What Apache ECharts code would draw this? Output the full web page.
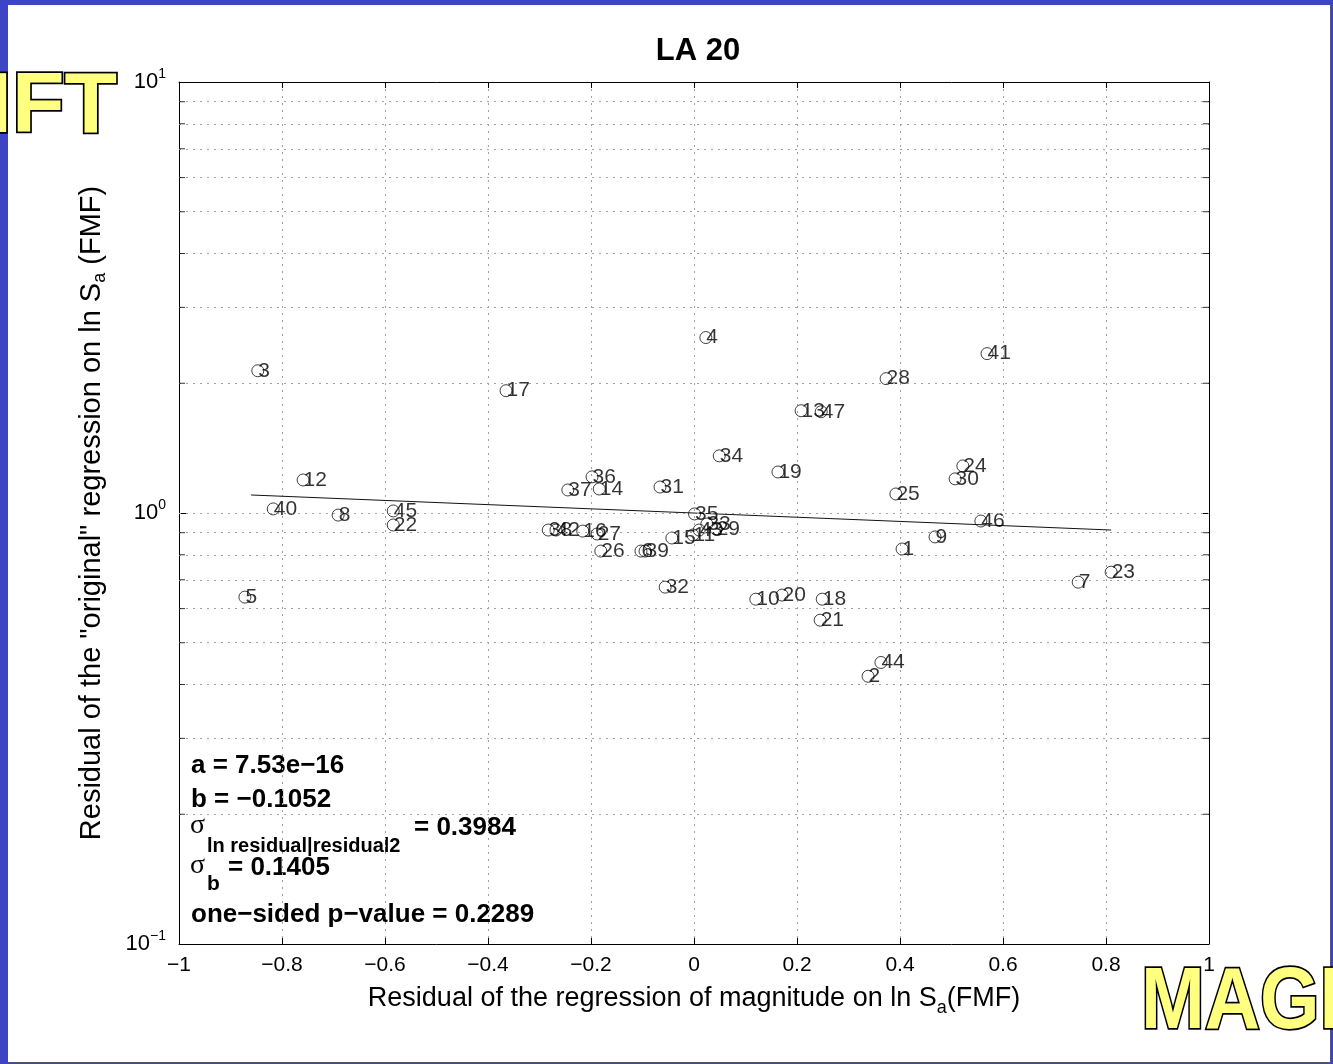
<!DOCTYPE html>
<html>
<head>
<meta charset="utf-8">
<script src="https://cdn.jsdelivr.net/npm/echarts@6/dist/echarts.min.js"></script>
<style>
  html, body { margin: 0; padding: 0; width: 1333px; height: 1064px; overflow: hidden; background: #3d45c2; }
  #panel { position: absolute; left: 8px; top: 5px; width: 1322px; height: 1057px; background: #fff; border-right: 1px solid #556; border-bottom: 1px solid #556; }
  #chart { position: absolute; left: 0; top: 0; width: 1333px; height: 1064px; }
</style>
</head>
<body>
<div id="panel"></div>
<div id="chart"></div>
<script>
// event numbers, residual of magnitude regression (x), residual of original regression (y)
const ids = [1, 2, 3, 4, 5, 6, 7, 8, 9, 10, 11, 12, 13, 14, 15, 16, 17, 18, 19, 20, 21, 22, 23, 24,
  25, 26, 27, 28, 29, 30, 31, 32, 33, 34, 35, 36, 37, 38, 39, 40, 41, 42, 43, 44, 45, 46, 47];
const resMag = [0.404, 0.338, -0.847, 0.023, -0.872, -0.103, 0.746, -0.691, 0.468, 0.120, -0.002, -0.759,
  0.208, -0.184, -0.043, -0.216, -0.365, 0.249, 0.163, 0.171, 0.245, -0.584, 0.810, 0.522,
  0.392, -0.181, -0.188, 0.373, 0.043, 0.507, -0.066, -0.056, 0.025, 0.049, 0.001, -0.198,
  -0.245, -0.283, -0.095, -0.817, 0.569, -0.268, 0.010, 0.363, -0.584, 0.557, 0.247];
const resOrig = [0.825, 0.418, 2.138, 2.553, 0.638, 0.816, 0.691, 0.989, 0.880, 0.631, 0.889, 1.193,
  1.727, 1.137, 0.875, 0.908, 1.922, 0.631, 1.245, 0.645, 0.564, 0.938, 0.729, 1.286,
  1.107, 0.816, 0.894, 2.050, 0.918, 1.200, 1.149, 0.673, 0.943, 1.357, 0.995, 1.213,
  1.131, 0.913, 0.816, 1.022, 2.343, 0.913, 0.913, 0.450, 1.011, 0.958, 1.718];

// fitted line end points
const fitX = [-0.86, 0.81];
const fitY = [1.101, 0.913];

// log grid positions
const logGrid = [0.2, 0.3, 0.4, 0.5, 0.6, 0.7, 0.8, 0.9, 1, 2, 3, 4, 5, 6, 7, 8, 9];
const minorTicks = logGrid.filter(v => v !== 1);
const powLabels = { "-1": "\u22121", "0": "0", "1": "1" };

const FONT = "'Liberation Sans', Arial, Helvetica, sans-serif";

const chart = echarts.init(document.getElementById("chart"), null, { renderer: "canvas" });

const points = ids.map((id, i) => [resMag[i], resOrig[i], id]);

const txt = (x, y, text, font) => ({
  type: "text", x: x, y: y, silent: true,
  style: { text: text, font: font, fill: "#000", verticalAlign: "middle" }
});
const bold = "bold 26px " + FONT;

const option = {
  animation: false,
  backgroundColor: "transparent",
  title: {
    text: "LA 20",
    left: 693,
    top: 31,
    textAlign: "center",
    textStyle: { fontFamily: FONT, fontWeight: "bold", fontSize: 31, color: "#000" }
  },
  grid: { left: 179, right: 124, top: 82, bottom: 120, containLabel: false },
  xAxis: [
    {
      type: "value", min: -1, max: 1, interval: 0.2, position: "bottom",
      name: "Residual of the regression of magnitude on ln S{sub|a}(FMF)",
      nameLocation: "middle", nameGap: 23,
      nameTextStyle: {
        fontFamily: FONT, fontSize: 27, color: "#000", lineHeight: 36,
        rich: { sub: { fontFamily: FONT, fontSize: 18, color: "#000", verticalAlign: "bottom", lineHeight: 15 } }
      },
      axisLine: { onZero: false, lineStyle: { color: "#000", width: 1 } },
      axisTick: { inside: true, length: 6, lineStyle: { color: "#000" } },
      axisLabel: {
        margin: 11, fontFamily: FONT, fontSize: 21, color: "#000",
        formatter: v => { const r = Math.round(v * 10) / 10; return r < 0 ? "\u2212" + String(-r) : String(r); }
      },
      splitLine: { show: true, lineStyle: { color: "#a0a0a0", type: [2, 5], width: 1 } }
    },
    {
      type: "value", min: -1, max: 1, interval: 0.2, position: "top",
      axisLine: { onZero: false, lineStyle: { color: "#000", width: 1 } },
      axisTick: { inside: true, length: 6, lineStyle: { color: "#000" } },
      axisLabel: { show: false },
      splitLine: { show: false }
    }
  ],
  yAxis: [
    {
      type: "log", logBase: 10, min: 0.1, max: 10, position: "left",
      name: "Residual of the \"original\" regression on ln S{sub|a} (FMF)",
      nameLocation: "middle", nameGap: 70, nameRotate: 90,
      nameTextStyle: {
        fontFamily: FONT, fontSize: 29, color: "#000", lineHeight: 34,
        rich: { sub: { fontFamily: FONT, fontSize: 18, color: "#000", verticalAlign: "bottom", lineHeight: 13 } }
      },
      axisLine: { onZero: false, lineStyle: { color: "#000", width: 1 } },
      axisTick: { inside: true, length: 7, lineStyle: { color: "#000" } },
      axisLabel: {
        margin: 13,
        formatter: v => "{b|10}{s|" + powLabels[String(Math.round(Math.log10(v)))] + "}",
        rich: {
          b: { fontFamily: FONT, fontSize: 22, color: "#000", lineHeight: 30 },
          s: { fontFamily: FONT, fontSize: 14, color: "#000", verticalAlign: "top", lineHeight: 13 }
        }
      },
      splitLine: { show: false }
    },
    {
      type: "log", logBase: 10, min: 0.1, max: 10, position: "right",
      axisLine: { onZero: false, lineStyle: { color: "#000", width: 1 } },
      axisTick: { inside: true, length: 7, lineStyle: { color: "#000" } },
      axisLabel: { show: false },
      splitLine: { show: false }
    }
  ],
  series: [
    {
      name: "fit",
      type: "line",
      data: fitX.map((x, i) => [x, fitY[i]]),
      showSymbol: false,
      silent: true,
      lineStyle: { color: "#111", width: 1 },
      z: 3,
      markLine: {
        silent: true,
        symbol: "none",
        label: { show: false },
        lineStyle: { color: "#a0a0a0", type: [2, 5], width: 1 },
        data: logGrid.map(v => ({ yAxis: v }))
      }
    },
    {
      name: "residuals",
      type: "scatter",
      data: points,
      symbol: "circle",
      symbolSize: 12,
      itemStyle: { color: "rgba(0,0,0,0)", borderColor: "#111", borderWidth: 1 },
      label: {
        show: true, position: "right", distance: -6,
        formatter: p => String(p.value[2]),
        fontFamily: FONT, fontSize: 21, color: "#000"
      },
      emphasis: { disabled: true },
      z: 4
    },
    {
      name: "minor ticks left",
      type: "scatter",
      data: minorTicks.map(v => [-1, v]),
      symbol: "rect", symbolSize: [6, 1], symbolOffset: [3, 0],
      itemStyle: { color: "#000" }, silent: true, clip: false, z: 5
    },
    {
      name: "minor ticks right",
      type: "scatter",
      data: minorTicks.map(v => [1, v]),
      symbol: "rect", symbolSize: [6, 1], symbolOffset: [-3, 0],
      itemStyle: { color: "#000" }, silent: true, clip: false, z: 5
    }
  ],
  graphic: [
    txt(191, 766, "a = 7.53e\u221216", bold),
    txt(191, 800, "b = \u22120.1052", bold),
    txt(190, 826, "\u03c3", "28px 'Liberation Serif', serif"),
    txt(207, 846, "ln residual|residual2", "bold 20px " + FONT),
    txt(414, 828, "= 0.3984", bold),
    txt(190, 866, "\u03c3", "28px 'Liberation Serif', serif"),
    txt(207, 884, "b", "bold 21px " + FONT),
    txt(228, 868, "= 0.1405", bold),
    txt(191, 915, "one\u2212sided p\u2212value = 0.2289", bold),
    {
      type: "text", x: -12, y: 108, silent: true, z: 100,
      style: { text: "IFT", font: "bold 86px " + FONT, fill: "#ffff80", stroke: "#000", lineWidth: 3.5, verticalAlign: "middle" }
    },
    {
      type: "text", x: 1141, y: 1004, scaleX: 0.87, silent: true, z: 100,
      style: { text: "MAGI", font: "bold 88px " + FONT, fill: "#ffff80", stroke: "#000", lineWidth: 3.5, verticalAlign: "middle" }
    }
  ]
};

chart.setOption(option);
</script>
</body>
</html>
